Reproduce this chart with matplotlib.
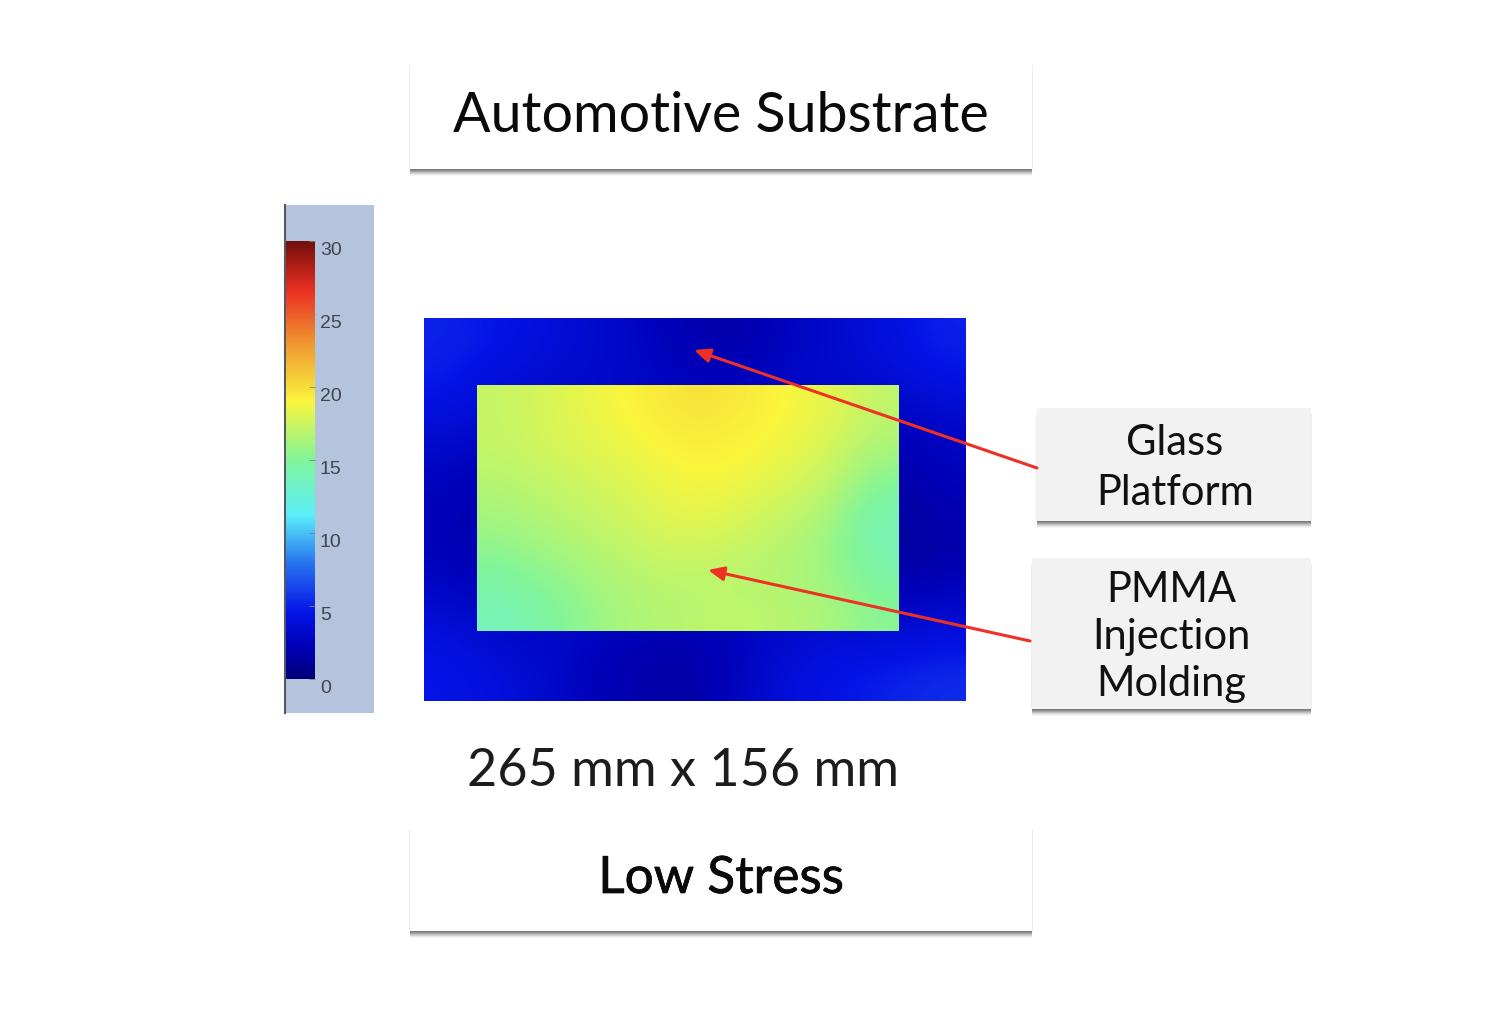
import numpy as np
import matplotlib
matplotlib.use('Agg')
from matplotlib import pyplot as plt
from matplotlib.colors import LinearSegmentedColormap
from matplotlib.patches import Rectangle
import matplotlib.patheffects as pe

W, H = 1508, 1012

# stress scale
scale_ticks = [0, 5, 10, 15, 20, 25, 30]

# colours, from 0 to 30
scale_stops = [0, 2, 4.5, 8, 11.2, 15, 19, 22.8, 26.5, 28.5, 30]
scale_colors = ['#00007a', '#0000b4', '#0414e6', '#2a78f0', '#5cf0fa', '#82f59a',
	'#faf53c', '#f09c32', '#eb3223', '#a81c14', '#6e0f0f']

# stress on the glass platform (dark middle is hidden by the PMMA part)
glass_stress = [
	[5.0, 4.6, 3.9, 3.3, 2.6, 1.8, 1.7, 2.6, 3.4, 4.2, 5.0],
	[4.8, 3.9, 3.4, 3.2, 2.8, 2.4, 2.4, 3.0, 3.2, 3.6, 4.4],
	[3.8, 3.0, 3.0, 3.0, 3.0, 2.8, 2.8, 2.9, 3.0, 2.2, 3.0],
	[2.7, 1.9, 2.8, 3.0, 3.0, 3.0, 3.0, 3.0, 2.8, 1.5, 2.5],
	[2.2, 1.5, 2.8, 3.0, 3.0, 3.0, 3.0, 3.0, 2.5, 1.1, 2.0],
	[2.3, 1.6, 2.8, 3.0, 3.0, 3.0, 3.0, 3.0, 2.5, 1.1, 1.6],
	[3.0, 2.0, 2.8, 3.0, 3.0, 3.0, 3.0, 3.0, 2.8, 1.9, 2.6],
	[4.2, 3.2, 3.0, 2.5, 2.0, 1.9, 2.5, 3.4, 3.8, 3.8, 4.2],
	[4.6, 4.0, 3.3, 2.2, 1.6, 1.5, 2.8, 4.0, 4.6, 5.0, 5.4],
]

# stress in the PMMA injection molded part
pmma_stress = [
	[17.2, 17.8, 18.6, 19.2, 19.9, 19.6, 19.0, 18.4, 17.0],
	[17.2, 17.8, 18.3, 18.9, 19.4, 19.2, 18.8, 18.0, 16.6],
	[16.9, 17.3, 17.8, 18.3, 19.0, 18.9, 18.2, 17.4, 15.4],
	[16.3, 16.8, 17.3, 17.9, 18.5, 18.2, 17.4, 16.6, 14.2],
	[15.6, 16.2, 16.8, 17.4, 17.8, 17.4, 16.8, 16.0, 13.8],
	[14.6, 15.4, 16.2, 16.8, 17.0, 16.8, 16.6, 16.0, 14.6],
	[13.8, 14.6, 15.8, 16.6, 16.8, 17.2, 16.8, 16.4, 15.2],
]

plate_size = "265 mm x 156 mm"
top_label = "Automotive Substrate"
bottom_label = "Low Stress"
glass_label = "Glass\nPlatform"
pmma_label = "PMMA\nInjection\nMolding"

stress_cmap = LinearSegmentedColormap.from_list(
	'stress', [(s / 30, c) for s, c in zip(scale_stops, scale_colors)], N=512)


def axes_px(fig, x0, y0, x1, y1):
	# axes from pixel box, y counted from the top of the picture
	return fig.add_axes([x0 / W, 1 - y1 / H, (x1 - x0) / W, (y1 - y0) / H])


def shadow_box(ax, x0, y0, x1, y1, face):
	# faint glow at the sides, then the grey band under the box
	ax.add_patch(Rectangle((x0 - 1, y0 + 6), x1 - x0 + 2, y1 - y0 - 6, fc='#505050', ec='none', alpha=0.1))
	for grow, a in zip([7, 6, 5, 4, 3, 2, 1], [0.05, 0.08, 0.12, 0.16, 0.22, 0.28, 0.3]):
		ax.add_patch(Rectangle((x0, y1 - 1), x1 - x0, 1 + grow, fc='#505050', ec='none', alpha=a))
	ax.add_patch(Rectangle((x0, y0), x1 - x0, y1 - y0, fc=face, ec='none'))


fig = plt.figure(figsize=(W / 100, H / 100), dpi=100, facecolor='white')

# overlay in pixel coordinates for the boxes and labels
page = fig.add_axes([0, 0, 1, 1], zorder=0)
page.set_xlim(0, W)
page.set_ylim(H, 0)
page.axis('off')

shadow_box(page, 410, 60, 1032, 170, 'white')
shadow_box(page, 410, 825, 1032, 932, 'white')
shadow_box(page, 1037, 409, 1311, 522, '#f2f2f2')
shadow_box(page, 1032, 559, 1311, 710, '#f2f2f2')

page.text(721, 116, top_label, fontsize=40, family='Lato', color='#0a0a0a', ha='center', va='center')
low = page.text(721, 880, bottom_label, fontsize=37, family='Lato', color='#0a0a0a', ha='center', va='center')
low.set_path_effects([pe.withStroke(linewidth=0.5, foreground='#0a0a0a')])
page.text(683, 772, plate_size, fontsize=37.5, family='Lato', color='#1c1c1c', ha='center', va='center')
page.text(1175, 468, glass_label, fontsize=30, family='Lato', color='#111111', ha='center', va='center', linespacing=1.4)
page.text(1171, 637, pmma_label, fontsize=30, family='Lato', color='#111111', ha='center', va='center', linespacing=1.3)

# colorbar panel
page.add_patch(Rectangle((285, 206), 89, 507.5, fc='#b4c4dc', ec='none'))
page.plot([285, 285], [206, 713.5], color='#555a60', lw=1.5)

cax = axes_px(fig, 286, 242, 315, 680)
cax.set_zorder(1)
cax.imshow(np.linspace(30, 0, 256).reshape(-1, 1), cmap=stress_cmap, vmin=0, vmax=30,
	aspect='auto', extent=[0, 1, 0, 30])
cax.set_xticks([])
cax.yaxis.tick_right()
cax.set_yticks(scale_ticks)
cax.tick_params(axis='y', direction='in', length=4, width=0.6, color='#8a8070',
	labelsize=14, labelcolor='#3f454d', pad=3.5)
for lab in cax.get_yticklabels():
	lab.set_family('Liberation Sans')
	lab.set_verticalalignment('top')
for s in cax.spines.values():
	s.set_visible(False)

# stress maps
ax = axes_px(fig, 424, 318.5, 965, 701.5)
ax.set_zorder(1)
ax.imshow(glass_stress, cmap=stress_cmap, vmin=0, vmax=30, interpolation='bicubic',
	aspect='auto', extent=[0, 541, 383, 0])
ax.imshow(pmma_stress, cmap=stress_cmap, vmin=0, vmax=30, interpolation='bicubic',
	aspect='auto', extent=[53, 474, 313, 67])
ax.set_xlim(0, 541)
ax.set_ylim(383, 0)
ax.axis('off')

# red leader arrows on top of everything
top = fig.add_axes([0, 0, 1, 1], zorder=3)
top.set_xlim(0, W)
top.set_ylim(H, 0)
top.axis('off')
top.patch.set_alpha(0)
for start, end in [((1037, 469), (694, 351)), ((1030, 642), (708, 571))]:
	top.annotate('', xy=end, xytext=start, arrowprops=dict(arrowstyle='-|>,head_width=0.42,head_length=0.95',
		color='#ee3124', lw=2.2, shrinkA=0, shrinkB=0))

fig.savefig('out.png', dpi=100)
